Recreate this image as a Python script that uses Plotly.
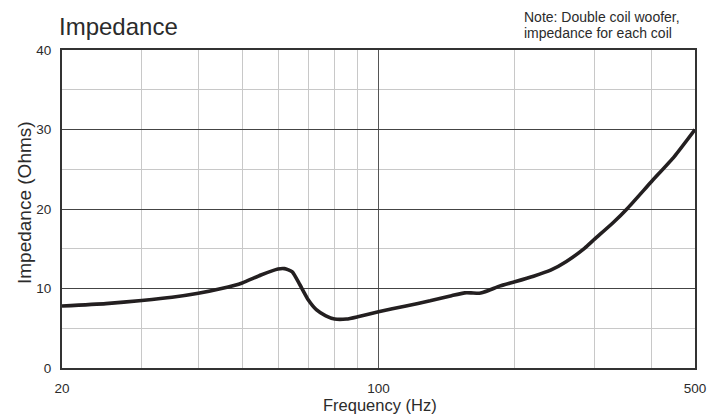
import plotly.graph_objects as go

freq_hz = [20, 25, 30, 35, 40, 45, 50, 55, 60, 62, 64.5, 67, 70, 73, 76.5, 80, 85, 90,
           100, 115, 130, 145, 155, 160, 167, 175, 185, 200, 220, 240, 260, 285, 300,
           330, 355, 400, 450, 500]
impedance_ohms = [7.8, 8.1, 8.5, 8.9, 9.4, 10.0, 10.7, 11.7, 12.45, 12.5, 12.1, 10.5,
                  8.55, 7.3, 6.55, 6.16, 6.16, 6.45, 7.08, 7.8, 8.45, 9.1, 9.45, 9.45,
                  9.4, 9.75, 10.3, 10.85, 11.55, 12.3, 13.4, 15.05, 16.2, 18.3, 20.1,
                  23.4, 26.6, 30.0]

x_major = [20, 100, 500]
x_major_labels = ["20", "100", "500"]
x_minor = [30, 40, 50, 60, 70, 80, 90, 200, 300, 400]
y_major = [0, 10, 20, 30, 40]

fig = go.Figure()
fig.add_trace(go.Scatter(x=freq_hz, y=impedance_ohms, mode="lines",
                         line=dict(color="#231f20", width=3.6, shape="spline", smoothing=0.5),
                         showlegend=False, hoverinfo="skip"))

font_family = "Liberation Sans, Arial, sans-serif"
txt = "#2b2b2b"
fig.update_layout(
    width=722, height=420,
    margin=dict(l=62, r=27, t=50, b=52, autoexpand=False),
    paper_bgcolor="white", plot_bgcolor="white",
    font=dict(family=font_family, color=txt, size=13.5),
    xaxis=dict(
        type="log", range=[1.30103, 2.69897], automargin=False,
        tickmode="array", tickvals=x_major, ticktext=x_major_labels,
        showgrid=True, gridcolor="#555555", gridwidth=1,
        minor=dict(tickmode="array", tickvals=x_minor, showgrid=True,
                   gridcolor="#c8c8c8", gridwidth=1, ticks=""),
        showline=True, linecolor="#333333", linewidth=2, mirror=True,
        ticks="outside", ticklen=7, tickcolor="rgba(0,0,0,0)",
        zeroline=False,
    ),
    yaxis=dict(
        range=[0, 40], tickmode="array", tickvals=y_major, automargin=False,
        showgrid=True, gridcolor="#444444", gridwidth=1,
        minor=dict(dtick=5, showgrid=True, gridcolor="#c8c8c8", gridwidth=1, ticks=""),
        showline=True, linecolor="#333333", linewidth=2, mirror=True,
        ticks="outside", ticklen=6, tickcolor="rgba(0,0,0,0)",
        zeroline=False,
    ),
)

fig.layout.annotations = [
    dict(text="Impedance", xref="paper", yref="paper", x=0.0, y=1.0, xshift=-5, yshift=8,
         xanchor="left", yanchor="bottom", showarrow=False,
         font=dict(size=24, color=txt, family=font_family)),
    dict(text="Note: Double coil woofer,", xref="paper", yref="paper",
         x=0.7314, y=1.0, xshift=-3, yshift=23, xanchor="left", yanchor="bottom", showarrow=False,
         font=dict(size=14, color=txt, family=font_family)),
    dict(text="impedance for each coil", xref="paper", yref="paper",
         x=0.7314, y=1.0, xshift=-3, yshift=7, xanchor="left", yanchor="bottom", showarrow=False,
         font=dict(size=14, color=txt, family=font_family)),
    dict(text="Impedance (Ohms)", xref="paper", yref="paper", x=0.0, y=0.5204, xshift=-37.5,
         xanchor="center", yanchor="middle", textangle=-90, showarrow=False,
         font=dict(size=19, color=txt, family=font_family)),
    dict(text="Frequency (Hz)", xref="paper", yref="paper", x=0.5, y=0.0, xshift=1.5, yshift=-26,
         xanchor="center", yanchor="top", showarrow=False,
         font=dict(size=16.5, color=txt, family=font_family)),
]

# remove the browser's default 8px page margin so the figure fills the window exactly
fig.write_html("out.html", config={"displayModeBar": False},
               post_script="document.body.style.margin='0';document.body.style.overflow='hidden';")
